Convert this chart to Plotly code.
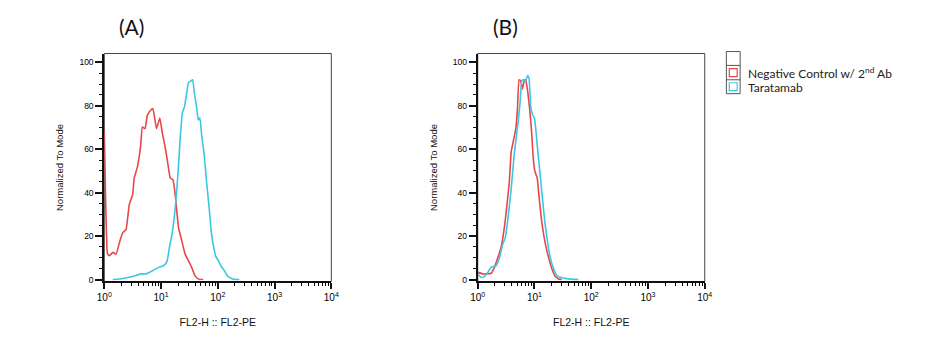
import math
import plotly.graph_objects as go

W, H = 926, 340

# ---------------- data (x given as log10 of FL2-PE intensity) ----------------
a_neg_logx = [0.0, 0.02, 0.05, 0.06, 0.093, 0.15, 0.208, 0.266, 0.324, 0.382, 0.44, 0.498, 0.527,
              0.585, 0.642, 0.671, 0.718, 0.758, 0.816, 0.856, 0.92, 0.978, 1.019, 1.076, 1.123,
              1.163, 1.209, 1.25, 1.308, 1.366, 1.424, 1.482, 1.539, 1.597, 1.655, 1.742]
a_neg_y = [68, 40, 13, 11.7, 11, 12.5, 11.7, 17, 21.6, 23, 34.5, 39, 46.7,
           52, 62, 70.3, 69.5, 75.6, 78, 78.7, 69.5, 74.4, 68, 60.4, 52.8,
           46.7, 46, 39, 23.9, 17.8, 11.7, 8.7, 5.6, 1.8, 0.3, 0]

a_tar_logx = [0.15, 0.324, 0.498, 0.642, 0.729, 0.845, 0.961, 1.048, 1.106, 1.146, 1.192, 1.25,
              1.296, 1.337, 1.377, 1.412, 1.453, 1.482, 1.528, 1.557, 1.586, 1.626, 1.655, 1.684,
              1.713, 1.76, 1.8, 1.846, 1.887, 1.927, 1.962, 2.014, 2.06, 2.118, 2.176, 2.263, 2.379]
a_tar_y = [0, 0.5, 1.4, 2.6, 2.6, 4, 5.6, 6.4, 8.5, 14.6, 20.7, 33,
           48, 65, 77, 79.5, 86, 90.7, 91.5, 92, 86, 79.5, 73.5, 74.5,
           67, 57.5, 45.5, 33.5, 21.5, 15, 10.8, 8.5, 6, 4, 1.5, 0.3, 0]

b_neg_logx = [0.0035, 0.09, 0.15, 0.237, 0.295, 0.353, 0.411, 0.469, 0.509, 0.556, 0.59, 0.625,
              0.671, 0.7, 0.729, 0.758, 0.787, 0.822, 0.845, 0.874, 0.914, 0.949, 0.978, 1.007,
              1.048, 1.088, 1.134, 1.192, 1.25, 1.308, 1.366, 1.424, 1.482]
b_neg_y = [3.3, 2.6, 2.6, 2.9, 5.6, 10, 14.8, 24, 33, 45, 59, 63.5,
           69.5, 78.7, 92, 91.6, 87.8, 91.6, 92, 87.8, 78.7, 68, 55.9, 49.8,
           46.7, 36, 25.4, 16.3, 10, 4.9, 1.4, 0.3, 0]

b_tar_logx = [0.0035, 0.061, 0.119, 0.177, 0.237, 0.324, 0.382, 0.44, 0.486, 0.527, 0.585, 0.642,
              0.683, 0.718, 0.747, 0.776, 0.816, 0.845, 0.88, 0.903, 0.932, 0.961, 1.001, 1.048,
              1.088, 1.134, 1.18, 1.227, 1.279, 1.337, 1.395, 1.482, 1.597, 1.771]
b_tar_y = [2.6, 1, 1.4, 3.3, 5.6, 6.4, 10, 16.3, 19.3, 27, 40.6, 57.4,
           66.5, 74, 81.7, 91.6, 92, 91.6, 94, 93, 80, 76.4, 74, 62,
           51.3, 39, 27, 17.8, 10, 4.9, 1.8, 0.8, 0.3, 0]

x_tickvals = [1, 10, 100, 1000, 10000]
x_ticktext = ["10<sup>0</sup>", "10<sup>1</sup>", "10<sup>2</sup>", "10<sup>3</sup>", "10<sup>4</sup>"]
x_minor_vals = [m * d for d in [1, 10, 100, 1000] for m in range(2, 10)]
y_tickvals = [0, 20, 40, 60, 80, 100]

series_names = ["Negative Control w/ 2<sup>nd</sup> Ab", "Taratamab"]
panel_titles = ["(A)", "(B)"]
x_title = "FL2-H :: FL2-PE"
y_title = "Normalized To Mode"

RED = "#e8474a"
CYAN = "#3cc6e6"

# ---------------- helpers (pixel -> paper) ----------------
def px(x):
    return x / W

def py(y):
    return 1 - y / H

fig = go.Figure()

panels = [
    (a_neg_logx, a_neg_y, a_tar_logx, a_tar_y, "x", "y"),
    (b_neg_logx, b_neg_y, b_tar_logx, b_tar_y, "x2", "y2"),
]
for nx, ny, tx, ty, xa, ya in panels:
    fig.add_trace(go.Scatter(x=[10 ** v for v in nx], y=ny, mode="lines",
                             line=dict(color=RED, width=1.6, shape="spline", smoothing=0.4),
                             xaxis=xa, yaxis=ya, showlegend=False, hoverinfo="skip"))
    fig.add_trace(go.Scatter(x=[10 ** v for v in tx], y=ty, mode="lines",
                             line=dict(color=CYAN, width=1.6, shape="spline", smoothing=0.4),
                             xaxis=xa, yaxis=ya, showlegend=False, hoverinfo="skip"))

# empty traces so the overlay (minor-tick) axes get drawn
fig.add_trace(go.Scatter(x=[None], y=[None], xaxis="x3", yaxis="y", showlegend=False,
                         hoverinfo="skip", mode="lines"))
fig.add_trace(go.Scatter(x=[None], y=[None], xaxis="x4", yaxis="y2", showlegend=False,
                         hoverinfo="skip", mode="lines"))

left_px = [98, 478]
right_px = [329, 709]
top_px, bot_px = 54, 284
x_log_range = [0, 4]

ytickfont = dict(family="Liberation Sans, Arial", size=8.5, color="#000")
xtickfont = dict(family="Liberation Sans, Arial", size=10, color="#000")
ytitlefont = dict(family="Liberation Sans, Arial", size=9.5, color="#111")
xtitlefont = dict(family="Liberation Sans, Arial", size=10.5, color="#111")

def xaxis_cfg(i):
    return dict(domain=[px(left_px[i]), px(right_px[i])], type="log", range=x_log_range,
                anchor="y" if i == 0 else "y2",
                tickmode="array", tickvals=x_tickvals, ticktext=x_ticktext,
                ticks="outside", ticklen=6, tickwidth=1.5, tickcolor="#111", tickfont=xtickfont,
                showline=True, linecolor="#111", linewidth=2, showgrid=False, zeroline=False,
                title=dict(text=x_title, font=xtitlefont, standoff=16))

def minor_axis_cfg(i):
    # linear overlay axis in log10 units, used only to draw the 2..9 minor ticks
    return dict(domain=[px(left_px[i]), px(right_px[i])], type="linear", range=x_log_range,
                anchor="y" if i == 0 else "y2", overlaying="x" if i == 0 else "x2",
                side="bottom", tickmode="array",
                tickvals=[math.log10(v) for v in x_minor_vals],
                ticks="outside", ticklen=4, tickwidth=1, tickcolor="#000",
                showticklabels=False, showline=False, showgrid=False, zeroline=False,
                fixedrange=True)

def yaxis_cfg(i):
    return dict(domain=[py(bot_px), py(top_px)], range=[-0.9, 104.1],
                anchor="x" if i == 0 else "x2",
                tickvals=y_tickvals, ticks="outside", ticklen=7, tickwidth=1.5,
                tickcolor="#111", tickfont=ytickfont,
                minor=dict(dtick=5, tick0=0, ticks="outside", ticklen=3, tickwidth=1,
                           tickcolor="#111", showgrid=False),
                showline=True, linecolor="#111", linewidth=2, showgrid=False, zeroline=False,
                title=dict(text=y_title, font=ytitlefont, standoff=14))

shapes = []
annotations = []
for i in range(2):
    # thin frame (top/right)
    shapes.append(dict(type="rect", xref="paper", yref="paper",
                       x0=px(left_px[i]), x1=px(right_px[i]), y0=py(bot_px), y1=py(top_px),
                       line=dict(color="#444", width=1), layer="below"))
    annotations.append(dict(text=panel_titles[i], xref="paper", yref="paper",
                            x=px(left_px[i] + 28), y=py(27), showarrow=False,
                            xanchor="center", yanchor="middle",
                            font=dict(family="Lato, Open Sans", size=21, color="#111")))

# legend box (manual)
lx0, lx1 = 731, 745
rows = [52, 66, 80.5, 94.5]
shapes.append(dict(type="rect", xref="paper", yref="paper", x0=px(lx0), x1=px(lx1),
                   y0=py(rows[-1]), y1=py(rows[0]), line=dict(color="#555", width=1)))
for r in rows[1:-1]:
    shapes.append(dict(type="line", xref="paper", yref="paper", x0=px(lx0), x1=px(lx1),
                       y0=py(r), y1=py(r), line=dict(color="#555", width=1)))
for j, col in enumerate([RED, CYAN]):
    cy = (rows[j + 1] + rows[j + 2]) / 2
    shapes.append(dict(type="rect", xref="paper", yref="paper", x0=px(734), x1=px(742),
                       y0=py(cy + 4), y1=py(cy - 4), line=dict(color=col, width=1.2),
                       fillcolor="white"))
    annotations.append(dict(text=series_names[j], xref="paper", yref="paper",
                            x=px(751), y=py(cy + (0 if j == 0 else 1)), showarrow=False,
                            xanchor="left", yanchor="middle",
                            font=dict(family="Lato, Open Sans", size=12, color="#222")))

fig.update_layout(
    width=W, height=H, margin=dict(l=0, r=0, t=0, b=0),
    paper_bgcolor="white", plot_bgcolor="white",
    xaxis=xaxis_cfg(0), yaxis=yaxis_cfg(0),
    xaxis2=xaxis_cfg(1), yaxis2=yaxis_cfg(1),
    xaxis3=minor_axis_cfg(0), xaxis4=minor_axis_cfg(1),
    shapes=shapes, annotations=annotations, showlegend=False,
)

fig.write_html("out.html")
